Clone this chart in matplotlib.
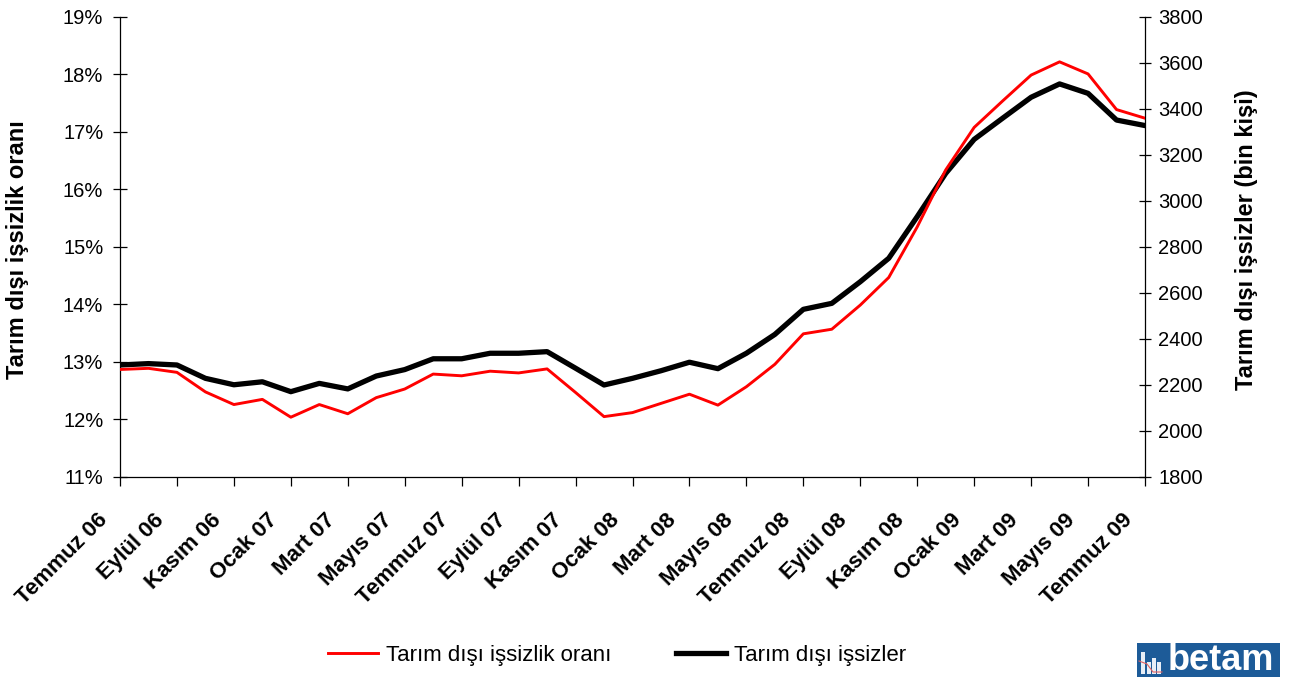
import matplotlib
matplotlib.use("Agg")
import matplotlib.pyplot as plt
import matplotlib.transforms as mtransforms
from matplotlib.patches import Rectangle
from matplotlib.lines import Line2D
import numpy as np

plt.rcParams['font.family'] = ['Liberation Sans', 'DejaVu Sans']

months = ["Temmuz 06", "Ağustos 06", "Eylül 06", "Ekim 06", "Kasım 06", "Aralık 06",
          "Ocak 07", "Şubat 07", "Mart 07", "Nisan 07", "Mayıs 07", "Haziran 07",
          "Temmuz 07", "Ağustos 07", "Eylül 07", "Ekim 07", "Kasım 07", "Aralık 07",
          "Ocak 08", "Şubat 08", "Mart 08", "Nisan 08", "Mayıs 08", "Haziran 08",
          "Temmuz 08", "Ağustos 08", "Eylül 08", "Ekim 08", "Kasım 08", "Aralık 08",
          "Ocak 09", "Şubat 09", "Mart 09", "Nisan 09", "Mayıs 09", "Haziran 09",
          "Temmuz 09"]

rate = [12.87, 12.89, 12.82, 12.48, 12.26, 12.35, 12.04, 12.26, 12.10, 12.38,
        12.53, 12.79, 12.76, 12.84, 12.81, 12.88, 12.47, 12.05, 12.12, 12.28,
        12.44, 12.25, 12.57, 12.96, 13.49, 13.57, 13.99, 14.47, 15.35, 16.34,
        17.08, 17.54, 17.99, 18.22, 18.01, 17.39, 17.24]

unemployed = [2287, 2293, 2287, 2229, 2201, 2214, 2171, 2207, 2183, 2239,
              2267, 2314, 2314, 2338, 2338, 2345, 2273, 2200, 2229, 2262,
              2299, 2271, 2338, 2420, 2529, 2555, 2649, 2751, 2932, 3120,
              3268, 3360, 3451, 3509, 3468, 3352, 3328]

left_ticks = [11, 12, 13, 14, 15, 16, 17, 18, 19]
right_ticks = [1800, 2000, 2200, 2400, 2600, 2800, 3000, 3200, 3400, 3600, 3800]

fig = plt.figure(figsize=(12.93, 6.8), dpi=100)
ax = fig.add_axes([120/1293, 1-477/680, (1145-120)/1293, 460/680])
ax2 = ax.twinx()

x = np.arange(len(months))
l1, = ax.plot(x, rate, color='#ff0000', lw=2.1, label='Tarım dışı işsizlik oranı', zorder=3)
l2, = ax2.plot(x, unemployed, color='black', lw=3.8, label='Tarım dışı işsizler', zorder=2)
ax.set_zorder(ax2.get_zorder() + 1)
ax.patch.set_visible(False)

ax.set_xlim(0, len(months) - 1)
ax.set_ylim(11, 19)
ax2.set_ylim(1800, 3800)
ax.set_yticks(left_ticks)
ax.set_yticklabels([f"{t}%" for t in left_ticks])
ax2.set_yticks(right_ticks)
ax2.set_yticklabels([str(t) for t in right_ticks])

for a in (ax, ax2):
    a.spines['top'].set_visible(False)
    for s in a.spines.values():
        s.set_linewidth(0.9)
ax.spines['right'].set_visible(False)
ax2.spines['left'].set_visible(False)
ax2.spines['bottom'].set_visible(False)

ax.tick_params(axis='y', direction='inout', length=10, width=0.9, labelsize=14.5, pad=7)
ax.tick_params(axis='x', direction='out', length=6.5, width=0.9, pad=0)
ax2.tick_params(axis='y', direction='inout', length=9, width=0.9, labelsize=14.5, pad=5)

ax.set_xticks(x[::2])
ax.set_xticklabels(months[::2], rotation=45, ha='right', va='center',
                   rotation_mode='anchor', fontsize=16, fontweight='bold')
offset = mtransforms.ScaledTranslation(-0.16, -0.31, fig.dpi_scale_trans)
for lab in ax.get_xticklabels():
    lab.set_transform(lab.get_transform() + offset)

ax.set_ylabel('Tarım dışı işsizlik oranı', fontsize=17, fontweight='bold')
ax2.set_ylabel('Tarım dışı işsizler (bin kişi)', fontsize=17, fontweight='bold', rotation=90)
ax.yaxis.set_label_coords((29-120)/1025, 0.495)
ax2.yaxis.set_label_coords((1235-120)/1025, 0.515)

fig.legend(handles=[l1, l2], loc='center', bbox_to_anchor=(617/1293, 1-655/680), ncol=2,
           frameon=False, fontsize=16, handlelength=2.25, handletextpad=0.36,
           columnspacing=2.9)

# betam logo
W, H = 1293, 680
fig.patches.append(Rectangle((1137/W, 1-677/H), 143/W, 34/H, transform=fig.transFigure,
                             facecolor='#1d5b98', edgecolor='none'))
for bx, bh in [(1141, 22), (1147, 12), (1152, 16), (1157, 12)]:
    fig.patches.append(Rectangle((bx/W, 1-674/H), 4/W, bh/H, transform=fig.transFigure,
                                 facecolor='#e8eef6', edgecolor='none'))
fig.lines.append(Line2D([1139/W, 1147/W, 1153/W, 1162/W], [1-661/H, 1-664/H, 1-672/H, 1-672/H],
                        transform=fig.transFigure, color='#e06060', lw=0.8))
fig.text(1221/W, 1-661/H, 'betam', fontsize=26, fontweight='bold', color='white',
         ha='center', va='center')

fig.savefig('out.png', dpi=100)
